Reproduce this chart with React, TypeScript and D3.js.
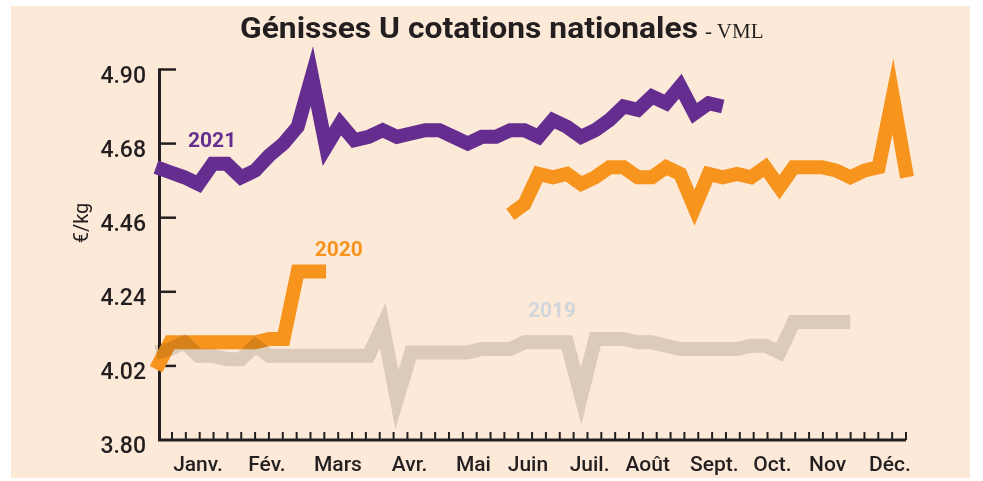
import React from "react";
import * as d3 from "d3";

// weekly national quotes, €/kg (week index 0..53)
const cotations2021 = [
  4.61, 4.595, 4.58, 4.56, 4.62, 4.62, 4.58, 4.6, 4.645, 4.68, 4.73, 4.88, 4.67, 4.74,
  4.69, 4.7, 4.72, 4.7, 4.71, 4.72, 4.72, 4.7, 4.68, 4.7, 4.7, 4.72, 4.72, 4.7, 4.75,
  4.73, 4.7, 4.72, 4.75, 4.79, 4.78, 4.82, 4.8, 4.85, 4.77, 4.8, 4.79,
];

const cotations2020: (number | null)[] = [
  4.01, 4.09, 4.09, 4.09, 4.09, 4.09, 4.09, 4.09, 4.1, 4.1, 4.3, 4.3, 4.3,
  null, null, null, null, null, null, null, null, null, null, null, null,
  4.47, 4.5, 4.59, 4.58, 4.59, 4.56, 4.58, 4.61, 4.61, 4.58, 4.58, 4.61, 4.59, 4.49,
  4.59, 4.58, 4.59, 4.58, 4.61, 4.55, 4.61, 4.61, 4.61, 4.6, 4.58, 4.6, 4.61, 4.82, 4.58,
];

const cotations2019 = [
  4.06, 4.07, 4.09, 4.05, 4.05, 4.04, 4.04, 4.08, 4.05, 4.05, 4.05, 4.05, 4.05, 4.05,
  4.05, 4.05, 4.14, 3.92, 4.06, 4.06, 4.06, 4.06, 4.06, 4.07, 4.07, 4.07, 4.09, 4.09,
  4.09, 4.09, 3.93, 4.1, 4.1, 4.1, 4.09, 4.09, 4.08, 4.07, 4.07, 4.07, 4.07, 4.07,
  4.08, 4.08, 4.06, 4.15, 4.15, 4.15, 4.15, 4.15,
];

const yTicks = [3.8, 4.02, 4.24, 4.46, 4.68, 4.9];
const months = ["Janv.", "Fév.", "Mars", "Avr.", "Mai", "Juin", "Juil.", "Août", "Sept.", "Oct.", "Nov", "Déc."];
const monthWeeks = [2.96, 7.83, 12.84, 17.9, 22.4, 26.25, 30.6, 34.7, 39.4, 43.5, 47.4, 51.8];
const tickCount = 54;

const ink = "#231F20";
const purple = "#652D90";
const orange = "#F7941D";

export default function App() {
  const width = 983;
  const height = 481;

  // scales
  const x = d3.scaleLinear().domain([0, 53]).range([156, 907]);
  const y = d3.scaleLinear().domain([3.8, 4.9]).range([440, 69.5]);
  const tickX = d3.scaleLinear().domain([0, tickCount - 1]).range([172, 906]);

  const line = d3
    .line<number | null>()
    .defined((d) => d != null)
    .x((_, i) => x(i))
    .y((d) => y(d as number));

  const lineStyle = {
    fill: "none",
    strokeWidth: 14,
    strokeLinejoin: "miter" as const,
    strokeMiterlimit: 12,
    strokeLinecap: "butt" as const,
  };

  return (
    <svg
      width={width}
      height={height}
      style={{ position: "absolute", left: 0, top: 0 }}
      fontFamily="Roboto, 'DejaVu Sans', sans-serif"
    >
      <rect width={width} height={height} fill="#fff" />
      <rect x={11} y={6} width={959} height={472} fill="#FDE9D8" />

      {/* title */}
      <text x={240} y={38} fontSize={30} fontWeight={700} fill={ink} textLength={458} lengthAdjust="spacingAndGlyphs">
        Génisses U cotations nationales
      </text>
      <text x={705} y={38} fontSize={21} fill={ink} fontFamily="'Liberation Serif', 'DejaVu Serif', serif">
        - VML
      </text>

      {/* axes */}
      <path d={`M${159.5},${y(4.9) - 1}V${y(3.8)}H${tickX(tickCount - 1)}`} fill="none" stroke={ink} strokeWidth={3} />
      {yTicks.slice(1).map((t) => (
        <line key={t} x1={159} x2={176} y1={y(t)} y2={y(t)} stroke={ink} strokeWidth={2.5} />
      ))}
      {d3.range(tickCount).map((k) => (
        <line key={k} x1={tickX(k)} x2={tickX(k)} y1={y(3.8)} y2={y(3.8) - 8} stroke={ink} strokeWidth={2} />
      ))}
      {yTicks.map((t) => (
        <text key={t} x={146} y={y(t) + 13} textAnchor="end" fontSize={23} fontWeight={500} fill={ink}>
          {t.toFixed(2)}
        </text>
      ))}
      {months.map((m, i) => (
        <text key={m} x={x(monthWeeks[i])} y={471} textAnchor="middle" fontSize={21} fontWeight={500} fill={ink}>
          {m}
        </text>
      ))}
      <text transform="translate(88,223) rotate(-90)" textAnchor="middle" fontSize={20} fill={ink}>
        €/kg
      </text>

      {/* series */}
      <path d={line(cotations2021) ?? ""} stroke={purple} {...lineStyle} />
      <path d={line(cotations2020) ?? ""} stroke={orange} {...lineStyle} />
      <path d={line(cotations2019) ?? ""} stroke="#DEDEDA" style={{ mixBlendMode: "multiply" }} {...lineStyle} />

      {/* year labels */}
      <text x={x(2.26)} y={y(4.671)} fontSize={21} fontWeight={700} fill={purple}>2021</text>
      <text x={x(11.2)} y={y(4.346)} fontSize={21} fontWeight={700} fill={orange}>2020</text>
      <text x={x(26.25)} y={y(4.165)} fontSize={21} fontWeight={700} fill="#D2D6DA">2019</text>
    </svg>
  );
}
